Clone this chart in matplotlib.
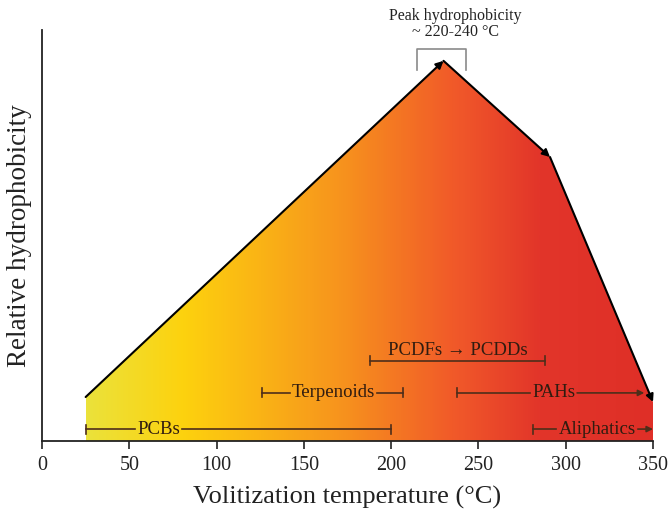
import matplotlib
matplotlib.use("Agg")
import matplotlib.pyplot as plt
import numpy as np
from matplotlib.colors import LinearSegmentedColormap
from matplotlib.patches import Polygon

plt.rcParams['font.family'] = ['Liberation Serif', 'DejaVu Serif']

# ---- data ----
curve_x = [25, 230, 291, 350]
curve_y = [0.107, 0.925, 0.691, 0.095]

grad_x = [25, 80, 170, 235, 285, 350]
grad_colors = ['#ebe23b', '#fdd20e', '#f7941d', '#f15a29', '#e2352a', '#df2f27']

range_names = ['PCBs', 'Aliphatics', 'Terpenoids', 'PAHs', 'PCDFs \u2192 PCDDs']
range_start = [25, 281, 126, 238, 188]
range_end = [200, 350, 207, 345, 288]
range_level = [0.029, 0.029, 0.117, 0.117, 0.195]
range_label_x = [67, 318, 167, 293, 238]
range_arrow = [False, True, False, True, False]
range_label_above = [False, False, False, False, True]

peak_lo, peak_hi = 215, 243
peak_label_x = 237
peak_text = "Peak hydrophobicity\n~ 220-240 \u00b0C"

xticks = [0, 50, 100, 150, 200, 250, 300, 350]
xlabel = "Volitization temperature (\u00b0C)"
ylabel = "Relative hydrophobicity"

# ---- figure ----
fig = plt.figure(figsize=(6.69, 5.16), dpi=100)
ax = fig.add_axes([42/669, 75/516, 611/669, 411/516])
ax.set_xlim(0, 350)
ax.set_ylim(0, 1)

# gradient fill
cmap = LinearSegmentedColormap.from_list(
    'g', [((x - grad_x[0]) / (grad_x[-1] - grad_x[0]), c) for x, c in zip(grad_x, grad_colors)])
grad = np.linspace(0, 1, 512).reshape(1, -1)
im = ax.imshow(grad, cmap=cmap, extent=[grad_x[0], grad_x[-1], 0, 1],
               aspect='auto', origin='lower', zorder=1)
poly_pts = [(curve_x[0], 0)] + list(zip(curve_x, curve_y)) + [(curve_x[-1], 0)]
poly = Polygon(poly_pts, closed=True, facecolor='none', edgecolor='none',
               transform=ax.transData)
ax.add_patch(poly)
im.set_clip_path(poly)

# curve with arrowheads
for i in range(len(curve_x) - 1):
    ax.annotate('', xy=(curve_x[i+1], curve_y[i+1]), xytext=(curve_x[i], curve_y[i]),
                arrowprops=dict(arrowstyle='-|>', color='black', lw=1.5,
                                mutation_scale=11, shrinkA=0, shrinkB=0),
                zorder=5)

# ranges
lc = '#4e2e1a'
tc = '#301c10'
fig.canvas.draw()
renderer = fig.canvas.get_renderer()
tick_h = 0.011
for name, s, e, lev, lx, arr, above in zip(range_names, range_start, range_end, range_level,
                                           range_label_x, range_arrow, range_label_above):
    if above:
        ax.text(lx, lev + 0.004, name, ha='center', va='bottom', fontsize=13.5, color=tc, zorder=6)
        ax.plot([s, e], [lev, lev], color=lc, lw=1.2, zorder=6)
    else:
        t = ax.text(lx, lev, name, ha='center', va='center', fontsize=13.5, color=tc, zorder=6)
        bb = t.get_window_extent(renderer).transformed(ax.transData.inverted())
        gap = 1.2
        ax.plot([s, bb.x0 - gap], [lev, lev], color=lc, lw=1.2, zorder=6)
        if arr:
            ax.annotate('', xy=(e, lev), xytext=(bb.x1 + gap, lev),
                        arrowprops=dict(arrowstyle='-|>', color=lc, lw=1.2,
                                        mutation_scale=9, shrinkA=0, shrinkB=0), zorder=6)
        else:
            ax.plot([bb.x1 + gap, e], [lev, lev], color=lc, lw=1.2, zorder=6)
    ax.plot([s, s], [lev - tick_h, lev + tick_h], color=lc, lw=1.2, zorder=6)
    if not arr:
        ax.plot([e, e], [lev - tick_h, lev + tick_h], color=lc, lw=1.2, zorder=6)

# peak bracket
ax.plot([peak_lo, peak_lo, peak_hi, peak_hi], [0.903, 0.954, 0.954, 0.903],
        color='#8a8a8a', lw=1.2, clip_on=False, zorder=4)
ax.text(peak_label_x, 0.975, peak_text, ha='center', va='bottom',
        fontsize=11.5, color='#222222', linespacing=1.0, clip_on=False)

# axes styling
for sp in ['top', 'right']:
    ax.spines[sp].set_visible(False)
for sp in ['left', 'bottom']:
    ax.spines[sp].set_linewidth(1.3)
    ax.spines[sp].set_color('#222222')
ax.set_yticks([])
ax.set_xticks(xticks)
ax.set_xticklabels([str(v) for v in xticks], fontsize=14.5, color='#222222')
ax.tick_params(axis='x', direction='out', length=6, width=1.2, pad=5, color='#222222')
ax.set_xlabel(xlabel, fontsize=19, color='#222222', labelpad=8)
ax.set_ylabel(ylabel, fontsize=19.5, color='#222222', labelpad=7)

fig.savefig('out.png', dpi=100)
